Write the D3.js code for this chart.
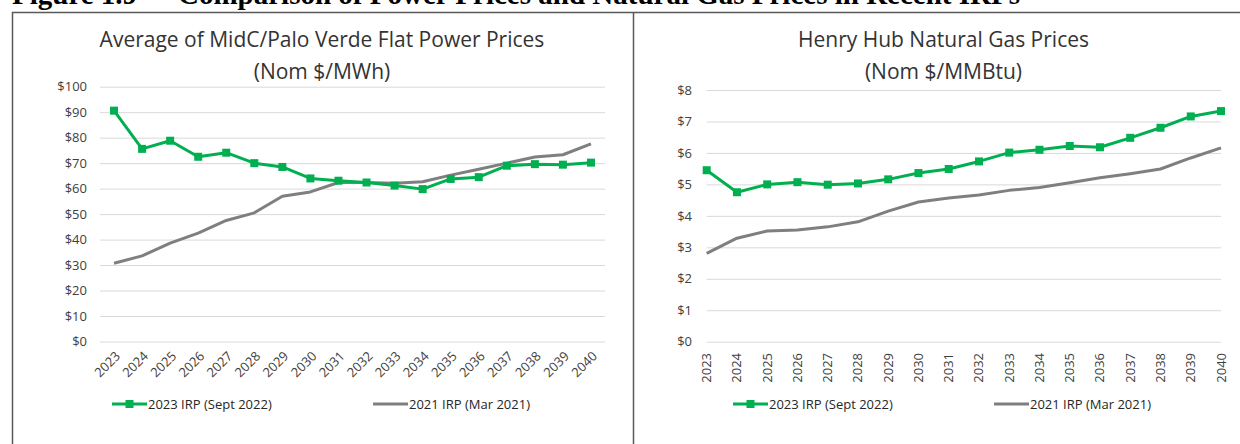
<!DOCTYPE html>
<html>
<head>
<meta charset="utf-8">
<script src="https://cdn.jsdelivr.net/npm/d3@7"></script>
<style>
  body { margin: 0; background: #fff; }
  svg { display: block; }
  .tick-label { font-family: "Open Sans", sans-serif; font-size: 13px; fill: #404040; }
  .title { font-family: "Open Sans", sans-serif; font-size: 21px; fill: #333; }
  .legend-text { font-family: "Open Sans", sans-serif; font-size: 13px; fill: #262626; }
  .heading { font-family: "Liberation Serif", serif; font-weight: bold; font-size: 29px; fill: #000; }
</style>
</head>
<body>
<svg width="1240" height="444"></svg>
<script>
const years = d3.range(2023, 2041).map(String);

// power prices, $/MWh
const power2023 = [90.6, 75.6, 78.8, 72.5, 74.1, 70.0, 68.5, 64.0, 63.1, 62.4, 61.2, 59.8, 63.8, 64.5, 69.0, 69.6, 69.4, 70.2];
const power2021 = [30.7, 33.6, 38.6, 42.5, 47.5, 50.5, 57.0, 58.7, 62.4, 62.4, 62.1, 62.7, 65.3, 67.6, 70.0, 72.4, 73.3, 77.6];

// gas prices, $/MMBtu
const gas2023 = [5.45, 4.75, 5.00, 5.07, 4.99, 5.03, 5.16, 5.36, 5.49, 5.73, 6.01, 6.10, 6.22, 6.18, 6.48, 6.80, 7.16, 7.33];
const gas2021 = [2.81, 3.29, 3.52, 3.55, 3.65, 3.81, 4.15, 4.44, 4.57, 4.66, 4.81, 4.90, 5.05, 5.21, 5.34, 5.49, 5.84, 6.16];

const seriesNames = ['2023 IRP (Sept 2022)', '2021 IRP (Mar 2021)'];
const green = '#00b050';
const grey = '#7f7f7f';

const svg = d3.select('svg');

// page heading (cut off at the top of the picture)
svg.append('text').attr('class', 'heading')
  .attr('x', 12).attr('y', 4)
  .text('Figure 1.9');
svg.append('text').attr('class', 'heading')
  .attr('x', 178).attr('y', 4)
  .text('Comparison of Power Prices and Natural Gas Prices in Recent IRPs');

// frames
svg.append('path')
  .attr('d', 'M12.5,444 V12.5 H1240 M633.5,12.5 V444')
  .attr('fill', 'none')
  .attr('stroke', '#595959')
  .attr('stroke-width', 1.5);

const drawChart = opts => {
  const x = d3.scalePoint().domain(years).range(opts.xRange).padding(opts.xPad);
  const y = d3.scaleLinear().domain([0, opts.yMax]).range(opts.yRange);
  const g = svg.append('g');

  const yAxis = d3.axisLeft(y)
    .tickValues(d3.range(0, opts.yMax + opts.yStep / 2, opts.yStep))
    .tickSize(-(opts.gridEnd - opts.gridStart))
    .tickPadding(opts.gridStart - opts.labelRight)
    .tickFormat(d => '$' + d);
  const yAxisG = g.append('g')
    .attr('transform', `translate(${opts.gridStart},0)`)
    .call(yAxis);
  yAxisG.select('.domain').remove();
  yAxisG.selectAll('line').attr('stroke', '#d9d9d9').attr('stroke-width', 1);
  yAxisG.selectAll('text').attr('class', 'tick-label').attr('fill', null);

  // x labels
  g.selectAll('.xlab').data(years).enter().append('text')
    .attr('class', 'tick-label xlab')
    .attr('text-anchor', 'end')
    .attr('transform', d => opts.rot === -45
      ? `translate(${x(d) + 7},${357}) rotate(-45)`
      : `translate(${x(d) + 4.5},${353}) rotate(-90)`)
    .text(d => d);

  const line = d3.line().x((d, i) => x(years[i])).y(d => y(d));

  g.append('path').datum(opts.old)
    .attr('d', line).attr('fill', 'none')
    .attr('stroke', grey).attr('stroke-width', 3).attr('stroke-linejoin', 'round');
  g.append('path').datum(opts.cur)
    .attr('d', line).attr('fill', 'none')
    .attr('stroke', green).attr('stroke-width', 3).attr('stroke-linejoin', 'round');
  g.selectAll('.mk').data(opts.cur).enter().append('rect')
    .attr('x', (d, i) => x(years[i]) - 4)
    .attr('y', d => y(d) - 4)
    .attr('width', 8).attr('height', 8)
    .attr('fill', green);

  // titles
  opts.title.forEach((t, i) => {
    g.append('text').attr('class', 'title')
      .attr('x', opts.titleX).attr('y', 47 + i * 31.5)
      .attr('text-anchor', 'middle')
      .text(t);
  });

  // legend
  const lg = g.append('g');
  const ly = 404;
  lg.append('line')
    .attr('x1', opts.leg[0]).attr('x2', opts.leg[0] + 35)
    .attr('y1', ly).attr('y2', ly)
    .attr('stroke', green).attr('stroke-width', 3);
  lg.append('rect')
    .attr('x', opts.leg[0] + 13.5).attr('y', ly - 4)
    .attr('width', 8).attr('height', 8).attr('fill', green);
  lg.append('text').attr('class', 'legend-text')
    .attr('x', opts.leg[0] + 36).attr('y', ly).attr('dy', '0.35em')
    .text(seriesNames[0]);
  lg.append('line')
    .attr('x1', opts.leg[1]).attr('x2', opts.leg[1] + 35)
    .attr('y1', ly).attr('y2', ly)
    .attr('stroke', grey).attr('stroke-width', 3);
  lg.append('text').attr('class', 'legend-text')
    .attr('x', opts.leg[1] + 36).attr('y', ly).attr('dy', '0.35em')
    .text(seriesNames[1]);
};

drawChart({
  xRange: [100, 605], xPad: 0.5,
  yMax: 100, yStep: 10, yRange: [341.5, 86.7],
  gridStart: 100, gridEnd: 605, labelRight: 87,
  rot: -45,
  cur: power2023, old: power2021,
  title: ['Average of MidC/Palo Verde Flat Power Prices', '(Nom $/MWh)'],
  titleX: 322,
  leg: [112, 373]
});

drawChart({
  xRange: [706.7, 1221], xPad: 0,
  yMax: 8, yStep: 1, yRange: [341.7, 90],
  gridStart: 706.7, gridEnd: 1221, labelRight: 692,
  rot: -90,
  cur: gas2023, old: gas2021,
  title: ['Henry Hub Natural Gas Prices', '(Nom $/MMBtu)'],
  titleX: 943.5,
  leg: [733, 994]
});
</script>
</body>
</html>
